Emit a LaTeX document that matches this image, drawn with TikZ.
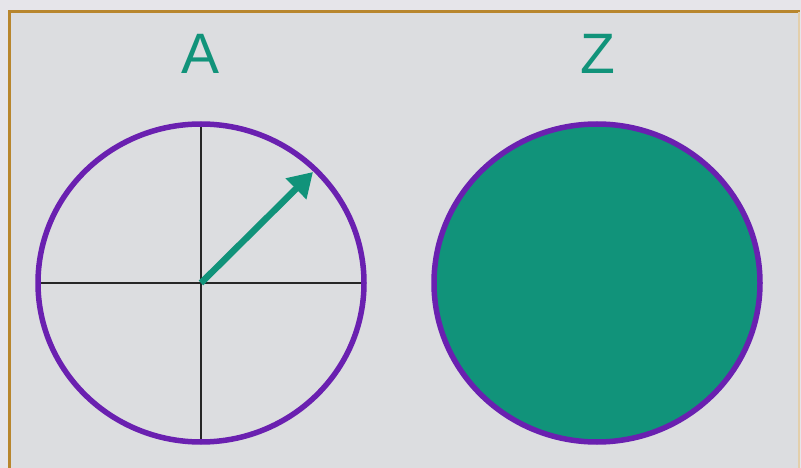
\documentclass[tikz,border=0pt]{standalone}
\usepackage{fontspec}
\setmainfont{Liberation Sans}
\usetikzlibrary{arrows.meta}
\definecolor{bgout}{HTML}{E6E5EA}
\definecolor{bgin}{HTML}{DCDDE0}
\definecolor{frame}{HTML}{B8862E}
\definecolor{tealg}{HTML}{11937A}
\definecolor{purp}{HTML}{6A20B0}
\tikzset{
  lbl/.style={text=tealg, font=\fontsize{57}{64}\selectfont, inner sep=0pt, anchor=base},
  ring/.style={draw=purp, line width=5.5pt},
  axis/.style={draw=black!85, line width=1.3pt},
  vec/.style={draw=tealg, line width=6.5pt, -{Triangle[length=24pt,width=28pt]}}
}
\begin{document}
\begin{tikzpicture}[x=1pt,y=-1pt]
\useasboundingbox (0,0) rectangle (801,468);
\fill[bgout] (0,0) rectangle (801,468);
\fill[bgin] (9,12) rectangle (799,468);
\draw[frame, line width=3pt] (9,470) -- (9,12) -- (800,12);
\draw[frame!40, line width=1.5pt] (799,12) -- (799,470);
\node[lbl] (la) at (201,74) {A};
\node[lbl] (lz) at (598,74) {Z};
\coordinate (ca) at (201,283);
\coordinate (cz) at (597,283);
\draw[axis] (38,283) -- (363,283);
\draw[axis] (201,124) -- (201,442);
\draw[ring] (ca) ellipse [x radius=163, y radius=159];
\fill[tealg] (cz) ellipse [x radius=163, y radius=159];
\draw[ring] (cz) ellipse [x radius=163, y radius=159];
\coordinate (tip) at (313,172);
\draw[vec] (ca) -- (tip);
\end{tikzpicture}
\end{document}
